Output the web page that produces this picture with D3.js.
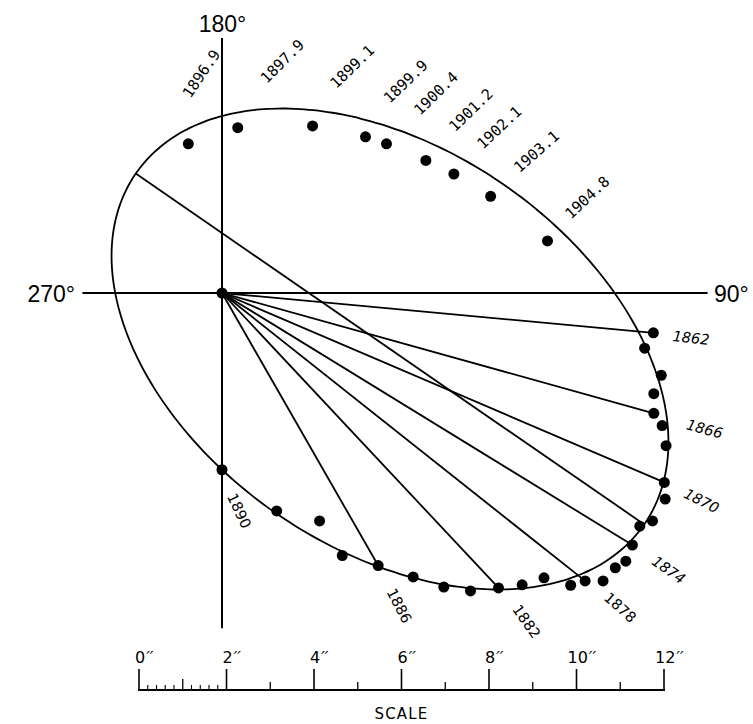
<!DOCTYPE html>
<html><head><meta charset="utf-8">
<script src="https://cdn.jsdelivr.net/npm/d3@7"></script>
<style>body{margin:0;background:#fff}</style>
</head><body>
<svg id="c" width="753" height="724"></svg>
<script>
// Offsets of the companion from the primary, in arcseconds.
// x: toward 90° (right), y: toward 0° (down)
const lateEpochs = ["1896.9","1897.9","1899.1","1899.9","1900.4","1901.2","1902.1","1903.1","1904.8"];
const lateX = [-0.77, 0.36, 2.07, 3.28, 3.76, 4.66, 5.30, 6.14, 7.44];
const lateY = [-3.41,-3.78,-3.82,-3.57,-3.41,-3.03,-2.72,-2.21,-1.19];

const earlyX = [9.86, 9.66,10.04, 9.87, 9.87,10.06,10.15,10.11,10.13, 9.84, 9.55, 9.38, 9.23, 8.99, 8.71, 8.30, 7.97, 7.36, 6.86, 6.32, 5.68, 5.07, 4.37, 3.57, 2.75, 2.23, 1.25, 0.00];
const earlyY = [0.91, 1.26, 1.88, 2.30, 2.75, 3.03, 3.49, 4.33, 4.71, 5.21, 5.33, 5.76, 6.13, 6.28, 6.58, 6.58, 6.68, 6.51, 6.67, 6.74, 6.81, 6.72, 6.49, 6.23, 6.00, 5.21, 4.98, 4.04];
// indices of early observations joined to the primary by radius vectors
const radiusIdx = [0, 4, 7, 11, 15, 19, 23, 27];

const yearLabels = ["1862","1866","1870","1874","1878","1882","1886","1890"];

// apparent orbit (arcsec, degrees)
const orbitCenter = [3.84, 1.28];
const orbitAxes = [7.06, 4.57];
const orbitTilt = 34.6;

const angleLabels = ["180°","270°","90°"];
const scaleTicks = [0,2,4,6,8,10,12];

// ---------------- layout ----------------
const PX = 43.75;
const xs = d3.scaleLinear().domain([0,1]).range([222, 222+PX]);
const ys = d3.scaleLinear().domain([0,1]).range([293, 293+PX]);
const svg = d3.select('#c');
const ink = '#000';

// axes
svg.append('line').attr('x1',xs(0)).attr('x2',xs(0)).attr('y1',ys(-5.83)).attr('y2',ys(7.66))
  .attr('stroke',ink).attr('stroke-width',2);
svg.append('line').attr('x1',xs(-3.19)).attr('x2',xs(11.1)).attr('y1',ys(0)).attr('y2',ys(0))
  .attr('stroke',ink).attr('stroke-width',2);

// orbit ellipse
const th = orbitTilt*Math.PI/180;
const ellPts = d3.range(0, 360, 2).map(t => {
  const r = t*Math.PI/180;
  const u = orbitAxes[0]*Math.cos(r), v = orbitAxes[1]*Math.sin(r);
  return [orbitCenter[0] + u*Math.cos(th) - v*Math.sin(th), orbitCenter[1] + u*Math.sin(th) + v*Math.cos(th)];
});
svg.append('path').attr('d', d3.line().x(d=>xs(d[0])).y(d=>ys(d[1])).curve(d3.curveCardinalClosed)(ellPts))
  .attr('fill','none').attr('stroke',ink).attr('stroke-width',1.8);

// major axis (line of apsides)
svg.append('line')
  .attr('x1', xs(orbitCenter[0]-orbitAxes[0]*Math.cos(th))).attr('y1', ys(orbitCenter[1]-orbitAxes[0]*Math.sin(th)))
  .attr('x2', xs(orbitCenter[0]+orbitAxes[0]*Math.cos(th))).attr('y2', ys(orbitCenter[1]+orbitAxes[0]*Math.sin(th)))
  .attr('stroke',ink).attr('stroke-width',1.8);

// radius vectors
svg.selectAll('line.rv').data(radiusIdx).join('line').attr('class','rv')
  .attr('x1',xs(0)).attr('y1',ys(0)).attr('x2',i=>xs(earlyX[i])).attr('y2',i=>ys(earlyY[i]))
  .attr('stroke',ink).attr('stroke-width',1.8);

// dots
svg.selectAll('circle.e').data(earlyX).join('circle').attr('class','e')
  .attr('cx',d=>xs(d)).attr('cy',(d,i)=>ys(earlyY[i])).attr('r',5.5).attr('fill',ink);
svg.selectAll('circle.l').data(lateX).join('circle').attr('class','l')
  .attr('cx',d=>xs(d)).attr('cy',(d,i)=>ys(lateY[i])).attr('r',5.5).attr('fill',ink);
svg.append('circle').attr('cx',xs(0)).attr('cy',ys(0)).attr('r',5.5).attr('fill',ink);

// late epoch labels
const lateLabPos = [[-0.47,-5.01,-56],[1.38,-5.29,-45],[2.98,-5.17,-44],[4.20,-4.83,-44],[4.89,-4.56,-44],[5.69,-4.18,-44],[6.34,-3.78,-43],[7.19,-3.23,-41],[8.35,-2.18,-43]];
svg.selectAll('text.lt').data(lateEpochs).join('text').attr('class','lt')
  .attr('transform',(d,i)=>`translate(${xs(lateLabPos[i][0])},${ys(lateLabPos[i][1])}) rotate(${lateLabPos[i][2]})`)
  .attr('text-anchor','middle').attr('dominant-baseline','central')
  .attr('font-family','DejaVu Sans Mono').attr('font-size',15).attr('fill',ink).text(d=>d);

// early year labels
const yearLabPos = [[10.72,1.03,6,1],[11.03,3.11,15,1],[10.96,4.75,27,1],[10.21,6.33,35,1],[9.10,7.19,42,0],[6.96,7.51,55,0],[4.05,7.15,63,0],[0.39,4.98,65,0]];
svg.selectAll('text.yt').data(yearLabels).join('text').attr('class','yt')
  .attr('transform',(d,i)=>`translate(${xs(yearLabPos[i][0])},${ys(yearLabPos[i][1])}) rotate(${yearLabPos[i][2]})`)
  .attr('text-anchor','middle').attr('dominant-baseline','central')
  .attr('font-style',(d,i)=>yearLabPos[i][3]?'italic':'normal')
  .attr('font-family','DejaVu Sans').attr('font-size',14.5).attr('fill',ink).text(d=>d);

// angle labels
const angPos = [[xs(0)+0.5, 32, 'middle'], [75, 302, 'end'], [714, 302, 'start']];
svg.selectAll('text.ang').data(angleLabels).join('text').attr('class','ang')
  .attr('x',(d,i)=>angPos[i][0]).attr('y',(d,i)=>angPos[i][1]).attr('text-anchor',(d,i)=>angPos[i][2])
  .attr('font-family','Liberation Sans').attr('font-size',23).attr('fill',ink).text(d=>d);

// scale bar
const sx = d3.scaleLinear().domain([0,12]).range([139,664]);
const barY = 690;
const sb = svg.append('g');
sb.append('line').attr('x1',sx(0)-1).attr('x2',sx(12)+1).attr('y1',barY).attr('y2',barY).attr('stroke',ink).attr('stroke-width',2);
sb.selectAll('line.maj').data(scaleTicks).join('line').attr('class','maj')
  .attr('x1',d=>sx(d)).attr('x2',d=>sx(d)).attr('y1',669).attr('y2',barY).attr('stroke',ink).attr('stroke-width',1.6);
sb.selectAll('line.med').data(d3.range(1,12,2)).join('line').attr('class','med')
  .attr('x1',d=>sx(d)).attr('x2',d=>sx(d)).attr('y1',d=>d===1?679:682).attr('y2',barY).attr('stroke',ink).attr('stroke-width',1.3);
sb.selectAll('line.min').data(d3.range(0.2,2,0.2).filter(v=>Math.abs(v-1)>0.05)).join('line').attr('class','min')
  .attr('x1',d=>sx(d)).attr('x2',d=>sx(d)).attr('y1',685).attr('y2',barY).attr('stroke',ink).attr('stroke-width',1.1);
const sl = sb.selectAll('text.sl').data(scaleTicks).join('text').attr('class','sl')
  .attr('x',d=>sx(d)-(d>=10?9:4)).attr('y',663).attr('text-anchor','start')
  .attr('font-family','DejaVu Sans').attr('font-size',16).attr('fill',ink);
sl.append('tspan').text(d=>d);
sl.append('tspan').attr('font-style','italic').attr('dx',1).text('′′');
sb.append('text').attr('x',sx(6)).attr('y',719).attr('text-anchor','middle')
  .attr('font-family','DejaVu Sans').attr('font-size',15).attr('letter-spacing',1.2).attr('fill',ink).text('SCALE');
</script>
</body></html>
